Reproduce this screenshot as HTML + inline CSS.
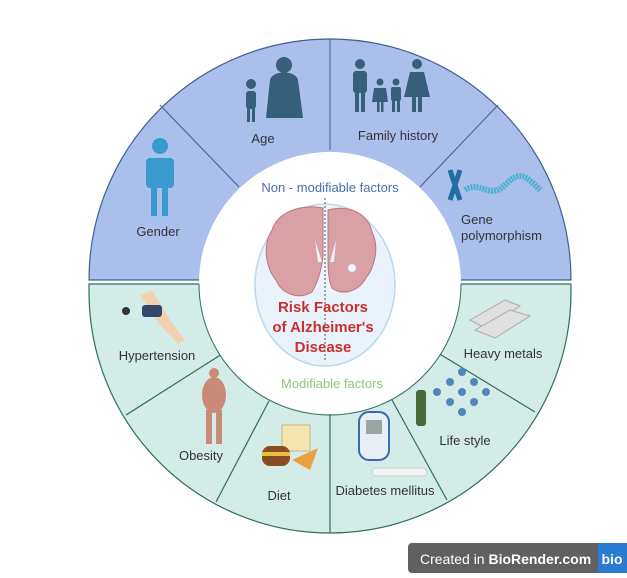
<!DOCTYPE html>
<html><head><meta charset="utf-8"><style>
body{margin:0;background:#fff;width:627px;height:573px;overflow:hidden;font-family:"Liberation Sans",sans-serif}
</style></head><body>
<svg width="627" height="573" viewBox="0 0 627 573" xmlns="http://www.w3.org/2000/svg" font-family="Liberation Sans, sans-serif">
<rect width="627" height="573" fill="#fff"/>
<!-- top half -->
<path d="M89 280 A241 241 0 0 1 571 280 Z" fill="#abbfec" stroke="#3d6190" stroke-width="1.2"/>
<!-- bottom half -->
<path d="M89 284 L89 292 A241 241 0 0 0 571 292 L571 284 Z" fill="#d3ece8" stroke="#2f6e5e" stroke-width="1.2"/>
<!-- divider lines top -->
<g stroke="#3d6190" stroke-width="1">
<line x1="239" y1="187" x2="160" y2="105"/>
<line x1="330" y1="150" x2="330" y2="39"/>
<line x1="420" y1="187" x2="498" y2="105"/>
</g>
<g stroke="#2f6e5e" stroke-width="1.2">
<line x1="222" y1="354" x2="126" y2="415"/>
<line x1="269" y1="401" x2="216" y2="502"/>
<line x1="330" y1="414" x2="330" y2="533"/>
<line x1="392" y1="400" x2="447" y2="500"/>
<line x1="438" y1="353" x2="535" y2="412"/>
</g>
<!-- inner white circle -->
<circle cx="330" cy="283" r="131" fill="#fff"/>
<path d="M199 284 A131 131 0 0 0 461 284" fill="none" stroke="#2f6e5e" stroke-width="1"/>
<!-- center ellipse -->
<ellipse cx="325" cy="285" rx="70" ry="81" fill="#eaf3fb" stroke="#b8d8f0" stroke-width="1.5"/>
<!-- brain -->
<g fill="#d9a0a5" stroke="#b9787e" stroke-width="1">
<path d="M323 208 C300 204 278 212 272 230 C262 245 266 268 276 280 C282 295 300 300 312 292 C318 282 322 268 323 255 Z"/>
<path d="M328 210 C350 204 368 214 372 232 C380 248 374 268 366 278 C358 292 342 296 332 288 C328 280 328 266 328 255 Z"/>
</g>
<g fill="#eaf3fb"><path d="M315 240 L322 262 L318 262 Z"/><path d="M336 240 L330 262 L334 262 Z"/><circle cx="352" cy="268" r="4"/></g>
<line x1="325" y1="198" x2="325" y2="360" stroke="#333" stroke-width="0.8" stroke-dasharray="2,2"/>
<!-- title -->
<g fill="#c8302e" font-weight="bold" font-size="15" text-anchor="middle">
<text x="323" y="312">Risk Factors</text>
<text x="323" y="332">of Alzheimer's</text>
<text x="323" y="352">Disease</text>
</g>
<text x="330" y="192" fill="#4a6fb0" font-size="13" text-anchor="middle">Non - modifiable factors</text>
<text x="332" y="388" fill="#90c67c" font-size="13" text-anchor="middle">Modifiable factors</text>
<!-- labels -->
<g fill="#333" font-size="13">
<text x="263" y="143" text-anchor="middle">Age</text>
<text x="398" y="140" text-anchor="middle">Family history</text>
<text x="158" y="236" text-anchor="middle">Gender</text>
<text x="461" y="224">Gene</text>
<text x="461" y="240">polymorphism</text>
<text x="157" y="360" text-anchor="middle">Hypertension</text>
<text x="201" y="460" text-anchor="middle">Obesity</text>
<text x="279" y="500" text-anchor="middle">Diet</text>
<text x="385" y="495" text-anchor="middle">Diabetes mellitus</text>
<text x="465" y="445" text-anchor="middle">Life style</text>
<text x="503" y="358" text-anchor="middle">Heavy metals</text>
</g>
<!-- gender icon -->
<g fill="#3a9ad0"><circle cx="160" cy="146" r="8"/><rect x="146" y="158" width="28" height="30" rx="4"/><rect x="151" y="186" width="6" height="30"/><rect x="162" y="186" width="6" height="30"/></g>
<!-- age icons -->
<g fill="#355f7a"><circle cx="251" cy="84" r="5"/><rect x="246" y="91" width="10" height="18" rx="3"/><rect x="247" y="108" width="3" height="14"/><rect x="252" y="108" width="3" height="14"/>
<circle cx="284" cy="65" r="8"/><path d="M270 80 C272 70 296 70 298 80 L303 118 L266 118 Z"/></g>
<!-- family -->
<g fill="#355f7a"><circle cx="360" cy="64" r="5"/><rect x="353" y="71" width="14" height="22" rx="3"/><rect x="355" y="92" width="4" height="20"/><rect x="361" y="92" width="4" height="20"/>
<circle cx="380" cy="82" r="3.5"/><path d="M374 88 L386 88 L388 102 L372 102 Z"/><rect x="377" y="100" width="2.5" height="12"/><rect x="381" y="100" width="2.5" height="12"/>
<circle cx="396" cy="82" r="3.5"/><rect x="391" y="87" width="10" height="14" rx="2"/><rect x="392" y="100" width="3" height="12"/><rect x="397" y="100" width="3" height="12"/>
<circle cx="417" cy="64" r="5"/><path d="M410 72 L424 72 L430 97 L404 97 Z"/><rect x="412" y="96" width="4" height="16"/><rect x="418" y="96" width="4" height="16"/></g>
<!-- gene -->
<g><path d="M450 170 L460 200 M460 170 L450 200" stroke="#1f6fa0" stroke-width="5"/><path d="M465 190 C480 180 490 200 505 185 S525 175 540 190" stroke="#4ab0cf" stroke-width="6" fill="none" stroke-dasharray="2,1"/></g>
<!-- hypertension -->
<path d="M140 295 L152 290 L170 320 L185 340 L178 344 L160 325 Z" fill="#f0d2b0"/><rect x="142" y="305" width="20" height="12" rx="3" fill="#33486a"/><circle cx="126" cy="311" r="4" fill="#333"/>
<!-- obesity -->
<g fill="#c98a78"><circle cx="214" cy="373" r="5"/><ellipse cx="214" cy="395" rx="12" ry="18"/><rect x="206" y="410" width="6" height="34"/><rect x="216" y="410" width="6" height="34"/></g>
<!-- diet -->
<rect x="282" y="425" width="28" height="26" fill="#f3e4b0" stroke="#c8b680"/><rect x="262" y="446" width="28" height="20" rx="8" fill="#8a4a22"/><rect x="262" y="452" width="28" height="4" fill="#e8c040"/><path d="M292 460 L318 448 L310 470 Z" fill="#e8a040"/>
<!-- diabetes -->
<rect x="359" y="412" width="30" height="48" rx="10" fill="#e8eef6" stroke="#3b6aa8" stroke-width="2"/><rect x="366" y="420" width="16" height="14" fill="#9aa6a0"/><rect x="372" y="468" width="55" height="8" rx="4" fill="#f2f2f2" stroke="#ccc"/>
<!-- life style -->
<rect x="416" y="390" width="10" height="36" rx="3" fill="#4a6a3a"/>
<g fill="#4e88b8"><circle cx="450" cy="382" r="4"/><circle cx="462" cy="372" r="4"/><circle cx="474" cy="382" r="4"/><circle cx="486" cy="392" r="4"/><circle cx="462" cy="392" r="4"/><circle cx="437" cy="392" r="4"/><circle cx="450" cy="402" r="4"/><circle cx="474" cy="402" r="4"/><circle cx="462" cy="412" r="4"/></g>
<!-- heavy metals -->
<g fill="#e0e0e0" stroke="#aaa"><path d="M470 320 L505 300 L520 306 L485 328 Z"/><path d="M475 330 L510 310 L530 316 L495 338 Z"/></g>
<!-- badge -->
<rect x="408" y="543" width="219" height="30" rx="4" fill="#606060"/>
<rect x="598" y="543" width="29" height="30" fill="#2c7bd0"/>
<text x="420" y="564" fill="#fff" font-size="14">Created in <tspan font-weight="bold">BioRender.com</tspan></text>
<text x="612" y="564" fill="#fff" font-size="14" font-weight="bold" text-anchor="middle">bio</text>
</svg>
</body></html>
